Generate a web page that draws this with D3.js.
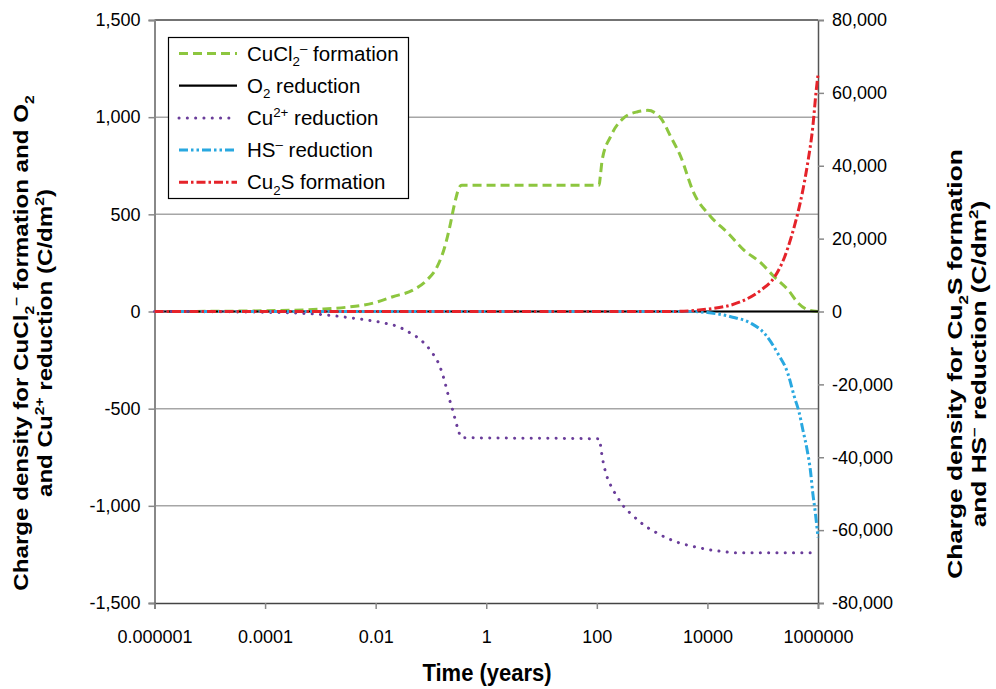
<!DOCTYPE html>
<html><head><meta charset="utf-8">
<script src="https://cdn.jsdelivr.net/npm/d3@7"></script>
<style>body{margin:0;background:#fff} text{font-family:"Liberation Sans",Arial,Helvetica,sans-serif;fill:#000}</style>
</head><body><svg id="c" width="996" height="689"></svg>
<script>
// ---- data ----
const xTicks = [1e-6, 1e-4, 1e-2, 1, 100, 1e4, 1e6];
const xTickLabels = ["0.000001", "0.0001", "0.01", "1", "100", "10000", "1000000"];
const leftTicks = [-1500, -1000, -500, 0, 500, 1000, 1500];
const rightTicks = [-80000, -60000, -40000, -20000, 0, 20000, 40000, 60000, 80000];

const cuclT = [1e-6, 1e-5, 1e-4, 1e-3, 0.003, 0.0095, 0.0204, 0.047, 0.085, 0.129, 0.178, 0.219, 0.269, 0.33, 0.36, 110, 116, 125, 177, 304, 546, 828, 1426, 2168, 3290, 5660, 11500, 23400, 45800, 93700, 161000, 290000, 436000, 665000, 1e6];
const cuclV = [0, 1, 4, 12, 22, 45, 76, 110, 162, 230, 333, 436, 558, 642, 650, 650, 700, 780, 900, 995, 1028, 1035, 996, 900, 797, 610, 488, 404, 316, 249, 179, 110, 44, 8, 0];

const o2T = [1e-6, 1e6];
const o2V = [0, 0];

const cu2T = [1e-6, 1e-5, 1e-4, 1e-3, 0.003, 0.0134, 0.0238, 0.0414, 0.0676, 0.102, 0.141, 0.174, 0.205, 0.247, 0.299, 0.359, 112, 118, 125, 143, 177, 233, 308, 437, 710, 1158, 1888, 3290, 5740, 10000, 20000, 30000, 1e6];
const cu2V = [0, -1, -4, -15, -30, -58, -75, -109, -150, -207, -275, -352, -430, -507, -593, -649, -655, -700, -747, -824, -893, -953, -1004, -1047, -1099, -1136, -1167, -1193, -1210, -1224, -1236, -1241, -1241];

const hsT = [1e-6, 5000, 10000, 26500, 61700, 107000, 187000, 284000, 373000, 460000, 533000, 636000, 727000, 806000, 898000, 1e6];
const hsV = [0, 0, -300, -1420, -3240, -5990, -11470, -16960, -23380, -27940, -32520, -38000, -43500, -49900, -55400, -62000];

const cusT = [1e-6, 2000, 13200, 40000, 93700, 165000, 250000, 330000, 430000, 533000, 650000, 806000, 930000, 1e6];
const cusV = [0, 0, 880, 2690, 5900, 9550, 15040, 20530, 26950, 33340, 40670, 50710, 60780, 65000];

const seriesNames = [
  [{t:"CuCl"},{t:"2",s:"sub"},{t:"–",s:"sup"},{t:" formation"}],
  [{t:"O"},{t:"2",s:"sub"},{t:" reduction"}],
  [{t:"Cu"},{t:"2+",s:"sup"},{t:" reduction"}],
  [{t:"HS"},{t:"–",s:"sup"},{t:" reduction"}],
  [{t:"Cu"},{t:"2",s:"sub"},{t:"S formation"}]
];
const leftTitle = [
  [{t:"Charge density for CuCl"},{t:"2",s:"sub"},{t:"–",s:"sup"},{t:" formation and O"},{t:"2",s:"sub"}],
  [{t:"and Cu"},{t:"2+",s:"sup"},{t:" reduction (C/dm"},{t:"2",s:"sup"},{t:")"}]
];
const rightTitle = [
  [{t:"Charge density for Cu"},{t:"2",s:"sub"},{t:"S formation"}],
  [{t:"and HS"},{t:"–",s:"sup"},{t:" reduction (C/dm"},{t:"2",s:"sup"},{t:")"}]
];
const xTitle = "Time (years)";

// ---- layout ----
const L = 154.5, R = 818, T = 20, B = 603;
const svg = d3.select("#c");
const x = d3.scaleLog().domain([1e-6, 1e6]).range([L, R]);
const yl = d3.scaleLinear().domain([-1500, 1500]).range([B, T]);
const yr = d3.scaleLinear().domain([-80000, 80000]).range([B, T]);
const fmt = d => d3.format(",")(d).replace("−", "-");

function rich(sel, parts, fs) {
  let prev = 0;
  parts.forEach(p => {
    const ts = sel.append("tspan").text(p.t);
    let sh = 0;
    if (p.s === "sub") sh = 0.28 * fs;
    if (p.s === "sup") sh = -0.38 * fs;
    if (sh - prev !== 0) ts.attr("dy", sh - prev);
    if (p.s) ts.attr("font-size", fs * 0.65);
    prev = sh;
  });
}

// gridlines
svg.append("g").selectAll("line").data(leftTicks.filter(d => d > -1500 && d < 1500)).join("line")
  .attr("x1", L).attr("x2", R).attr("y1", d => yl(d)).attr("y2", d => yl(d))
  .attr("stroke", "#a6a6a6").attr("stroke-width", 1.5);
// top border
svg.append("line").attr("x1", L).attr("x2", R).attr("y1", T).attr("y2", T).attr("stroke", "#444").attr("stroke-width", 1.5);

// left axis
const gl = svg.append("g").attr("transform", `translate(${L},0)`)
  .call(d3.axisLeft(yl).tickValues(leftTicks).tickSize(6).tickPadding(8).tickFormat(fmt));
gl.select(".domain").attr("stroke", "#888").attr("stroke-width", 2);
gl.selectAll(".tick line").attr("stroke", "#888").attr("stroke-width", 1.5);
gl.selectAll("text").attr("font-size", 18).attr("font-family", "Liberation Sans, Arial, sans-serif");

// right axis
const gr = svg.append("g").attr("transform", `translate(${R},0)`)
  .call(d3.axisRight(yr).tickValues(rightTicks).tickSize(6).tickPadding(8).tickFormat(fmt));
gr.select(".domain").attr("stroke", "#555").attr("stroke-width", 1.5);
gr.selectAll(".tick line").attr("stroke", "#888").attr("stroke-width", 1.5);
gr.selectAll("text").attr("font-size", 18).attr("font-family", "Liberation Sans, Arial, sans-serif");

// bottom axis
const gb = svg.append("g").attr("transform", `translate(0,${B})`)
  .call(d3.axisBottom(x).tickValues(xTicks).tickSize(6).tickPadding(21).tickFormat((d, i) => xTickLabels[i]));
gb.select(".domain").attr("stroke", "#444").attr("stroke-width", 1.5);
gb.selectAll(".tick line").attr("stroke", "#888").attr("stroke-width", 1.5);
gb.selectAll("text").attr("font-size", 18).attr("font-family", "Liberation Sans, Arial, sans-serif");

// series
const styles = [
  {color: "#8dc63f", w: 3, dash: "9,5", cap: "butt"},
  {color: "#000000", w: 2.2, dash: null, cap: "butt"},
  {color: "#6a3d9a", w: 3, dash: "0.1,8.2", cap: "round"},
  {color: "#29a8e0", w: 3, dash: "9,3,2.5,3,2.5,3", cap: "butt"},
  {color: "#e5232a", w: 3, dash: "9,3,2.5,3", cap: "butt"}
];
const series = [
  {t: cuclT, v: cuclV, y: yl},
  {t: o2T, v: o2V, y: yl},
  {t: cu2T, v: cu2V, y: yl},
  {t: hsT, v: hsV, y: yr},
  {t: cusT, v: cusV, y: yr}
];
series.forEach((s, i) => {
  const pts = s.t.map((t, j) => [t, s.v[j]]);
  const line = d3.line().x(d => x(d[0])).y(d => s.y(d[1])).curve(d3.curveMonotoneX);
  const st = styles[i];
  svg.append("path").datum(pts).attr("d", line).attr("fill", "none")
    .attr("stroke", st.color).attr("stroke-width", st.w)
    .attr("stroke-dasharray", st.dash).attr("stroke-linecap", st.cap);
});

// legend
const lg = svg.append("g");
lg.append("rect").attr("x", 168.5).attr("y", 37.5).attr("width", 240).attr("height", 161)
  .attr("fill", "#fff").attr("stroke", "#000").attr("stroke-width", 1.2);
seriesNames.forEach((nm, i) => {
  const yy = 53.5 + i * 32.2;
  const st = styles[i];
  lg.append("line").attr("x1", 179).attr("x2", 237).attr("y1", yy).attr("y2", yy)
    .attr("stroke", st.color).attr("stroke-width", st.w).attr("stroke-dasharray", st.dash).attr("stroke-linecap", st.cap);
  const tx = lg.append("text").attr("x", 247).attr("y", yy + 7).attr("font-size", 20.5);
  rich(tx, nm, 20.5);
});

// axis titles
const tfs = 21;
leftTitle.forEach((ln, i) => {
  const t = svg.append("text").attr("transform", `translate(${28 + i * 24},${343}) rotate(-90) scale(1.15,1)`)
    .attr("text-anchor", "middle").attr("font-weight", "bold").attr("font-size", tfs);
  rich(t, ln, tfs);
});
rightTitle.forEach((ln, i) => {
  const t = svg.append("text").attr("transform", `translate(${962 + i * 24},${364}) rotate(-90) scale(1.25,1)`)
    .attr("text-anchor", "middle").attr("font-weight", "bold").attr("font-size", tfs);
  rich(t, ln, tfs);
});
svg.append("text").attr("transform", "translate(487,681) scale(1,1.1)").attr("text-anchor", "middle")
  .attr("font-weight", "bold").attr("font-size", 22).text(xTitle);
</script></body></html>
